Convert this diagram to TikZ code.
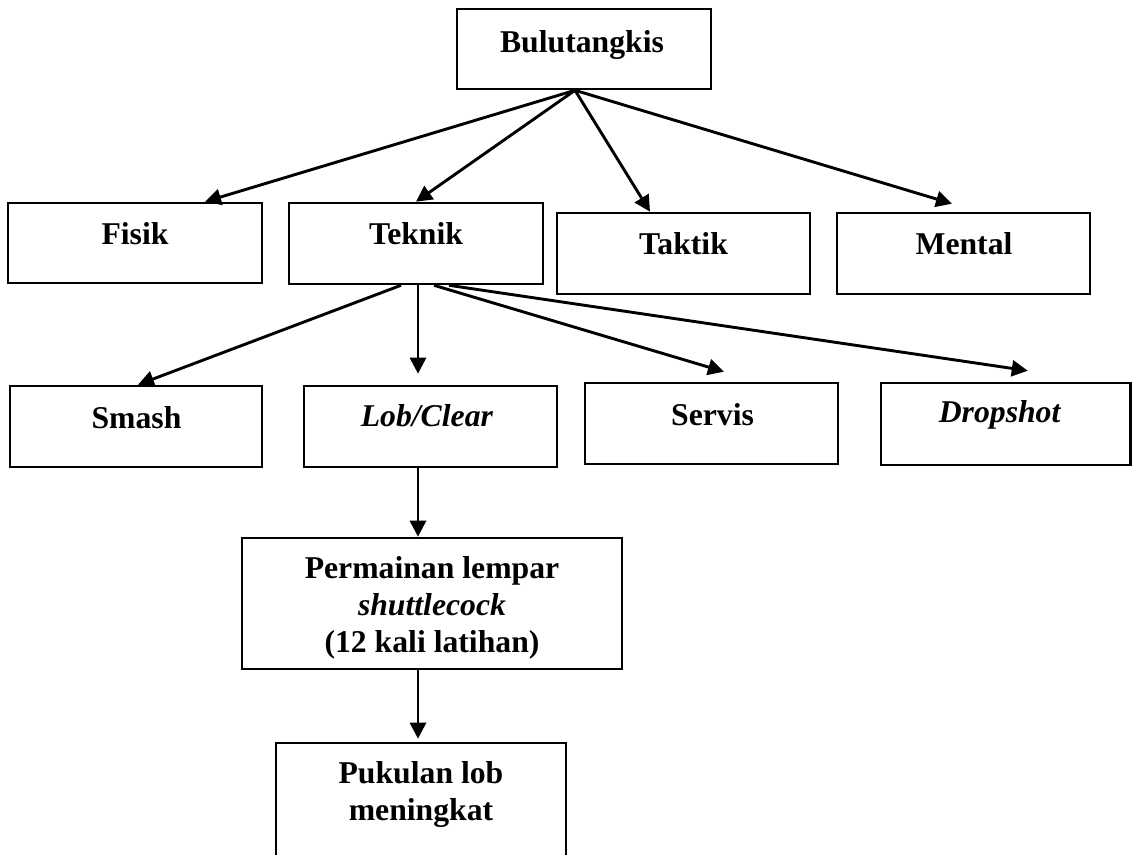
\documentclass[tikz,border=0pt]{standalone}
\usepackage{fontspec}
\setmainfont{Liberation Serif}
\usetikzlibrary{arrows.meta}
\begin{document}
\begin{tikzpicture}[x=1pt,y=-1pt,
  box/.style={draw=black, line width=2.6pt, inner sep=0pt},
  lbl/.style={font=\fontsize{31.7}{37}\selectfont\bfseries, inner sep=0pt, anchor=base},
  link/.style={line width=2.9pt, -{Triangle[length=16pt,width=16pt]}}]
\useasboundingbox (0,0) rectangle (1132,854);
\clip (0,0) rectangle (1132,854);
\fill[white] (0,0) rectangle (1132,854);

% boxes
\node[box, minimum width=254pt, minimum height=80pt] (bul) at (584,49) {};
\node[box, minimum width=254pt, minimum height=80pt] (fisik) at (135,243) {};
\node[box, minimum width=254pt, minimum height=81pt] (teknik) at (416,243.5) {};
\node[box, minimum width=253pt, minimum height=81pt] (taktik) at (683.5,253.5) {};
\node[box, minimum width=253pt, minimum height=81pt] (mental) at (963.5,253.5) {};
\node[box, minimum width=252pt, minimum height=81pt] (smash) at (136,426.5) {};
\node[box, minimum width=253pt, minimum height=81pt] (lob) at (430.5,426.5) {};
\node[box, minimum width=253pt, minimum height=81pt] (servis) at (711.5,423.5) {};
\node[box, minimum width=249.5pt, minimum height=82pt] (drop) at (1005.75,424) {};
\node[box, minimum width=380pt, minimum height=131pt] (perm) at (432,603.5) {};
\node[box, minimum width=290pt, minimum height=156pt] (puk) at (421,821) {};

% labels
\node[lbl] (tbul) at (582,52) {Bulutangkis};
\node[lbl] (tfisik) at (135,244) {Fisik};
\node[lbl] (tteknik) at (416,244) {Teknik};
\node[lbl] (ttaktik) at (683.5,254) {Taktik};
\node[lbl] (tmental) at (964,254) {Mental};
\node[lbl] (tsmash) at (136.5,428) {Smash};
\node[lbl] (tlob) at (427,426) {\textit{Lob/Clear}};
\node[lbl] (tservis) at (712.5,425) {Servis};
\node[lbl] (tdrop) at (1000,422) {\textit{Dropshot}};
\node[lbl] (tperm) at (432,578) {\begin{tabular}[t]{@{}c@{}}Permainan lempar\\ \textit{shuttlecock}\\ (12 kali latihan)\end{tabular}};
\node[lbl] (tpuk) at (421,783) {\begin{tabular}[t]{@{}c@{}}Pukulan lob\\ meningkat\end{tabular}};

% connectors
\draw[link] ([xshift=-9pt]bul.south) -- ([xshift=70pt]fisik.north);
\draw[link] ([xshift=-9pt]bul.south) -- (teknik.north);
\draw[link] ([xshift=-9pt]bul.south) -- ([xshift=-33.5pt]taktik.north);
\draw[link] ([xshift=-9pt]bul.south) -- ([xshift=-11.5pt,yshift=8pt]mental.north);

\draw[link] ([xshift=-15pt]teknik.south) -- ([xshift=2pt]smash.north);
\draw[link] ([xshift=2pt]teknik.south) -- ([xshift=-12.5pt,yshift=11pt]lob.north);
\draw[link] ([xshift=18pt]teknik.south) -- ([xshift=12.5pt,yshift=10pt]servis.north);
\draw[link] ([xshift=33pt]teknik.south) -- ([xshift=22pt,yshift=11pt]drop.north);

\draw[link] ([xshift=-12.5pt]lob.south) -- ([xshift=-14pt]perm.north);
\draw[link] ([xshift=-14pt]perm.south) -- ([xshift=-3pt,yshift=3pt]puk.north);
\end{tikzpicture}
\end{document}
